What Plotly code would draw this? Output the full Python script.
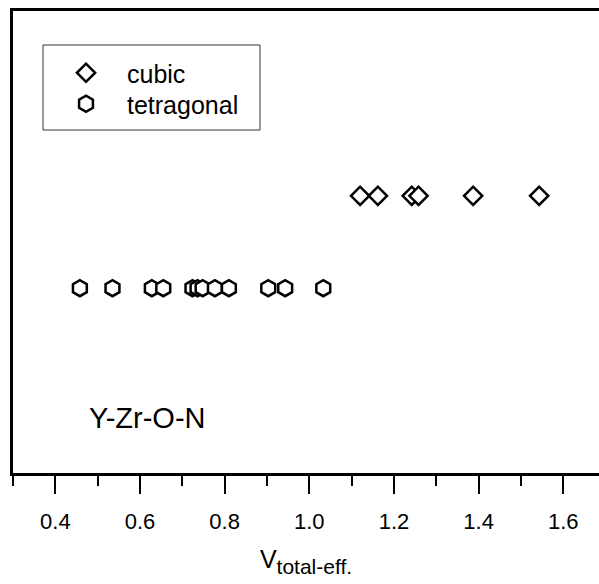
import plotly.graph_objects as go

# Data
cubic_x = [1.12, 1.162, 1.242, 1.258, 1.387, 1.543]
tetragonal_x = [0.458, 0.535, 0.628, 0.655, 0.724, 0.736, 0.748, 0.777, 0.81, 0.903, 0.943, 1.033]
cubic_level = 3
tetragonal_level = 2
x_tickvals = [0.4, 0.6, 0.8, 1.0, 1.2, 1.4, 1.6]
x_ticktext = ["0.4", "0.6", "0.8", "1.0", "1.2", "1.4", "1.6"]

FONT = "Arial, Liberation Sans, sans-serif"
W, H = 599, 584
L, T, B = 13, 11, 473
R = W

fig = go.Figure()
fig.add_trace(go.Scatter(
    x=cubic_x, y=[cubic_level] * len(cubic_x), mode="markers", name="cubic",
    legend="legend",
    marker=dict(symbol="diamond", size=14, color="white",
                line=dict(color="black", width=2.5)),
))
fig.add_trace(go.Scatter(
    x=tetragonal_x, y=[tetragonal_level] * len(tetragonal_x), mode="markers",
    name="tetragonal", legend="legend2",
    marker=dict(symbol="hexagon", size=16, color="white",
                line=dict(color="black", width=2.5)),
))

pw = R - L
ph = B - T
def px(xpix):
    return (xpix - L) / pw
def py(ypix):
    return (B - ypix) / ph

# legend box
fig.add_shape(type="rect", xref="paper", yref="paper",
              x0=px(43), x1=px(260), y0=py(130), y1=py(45),
              line=dict(color="#333", width=1), fillcolor="rgba(0,0,0,0)")

fig.add_annotation(text="Y-Zr-O-N", xref="paper", yref="paper",
                   x=px(87), y=py(418), xanchor="left", yanchor="middle",
                   showarrow=False, font=dict(family=FONT, size=29, color="black"))

leg_common = dict(xanchor="left", yanchor="middle",
                  bgcolor="rgba(0,0,0,0)", borderwidth=0,
                  font=dict(family=FONT, size=25, color="black"),
                  itemwidth=72)

fig.update_layout(
    width=W, height=H,
    margin=dict(l=L, r=0, t=T, b=H - B),
    plot_bgcolor="white", paper_bgcolor="white",
    font=dict(family=FONT, color="black"),
    showlegend=True,
    legend=dict(x=px(45), y=py(73), **leg_common),
    legend2=dict(x=px(45), y=py(104), **leg_common),
    xaxis=dict(
        range=[0.3, 0.3 + pw / 423.3],
        tickvals=x_tickvals, ticktext=x_ticktext,
        ticks="outside", ticklen=18, tickwidth=2, tickcolor="black",
        ticklabelstandoff=9,
        minor=dict(dtick=0.1, tick0=0.3, ticks="outside", ticklen=10,
                   tickwidth=2, tickcolor="black", showgrid=False),
        showline=True, linewidth=3, linecolor="black", mirror=True,
        showgrid=False, zeroline=False,
        tickfont=dict(family=FONT, size=22, color="black"),
        title=dict(text="V<sub><span style='font-size:21px'>total-eff.</span></sub>",
                   standoff=18,
                   font=dict(family=FONT, size=25, color="black")),
    ),
    yaxis=dict(
        range=[0, 5], showticklabels=False, ticks="",
        showline=True, linewidth=3, linecolor="black", mirror=False,
        showgrid=False, zeroline=False,
    ),
)

fig.write_html("out.html")
